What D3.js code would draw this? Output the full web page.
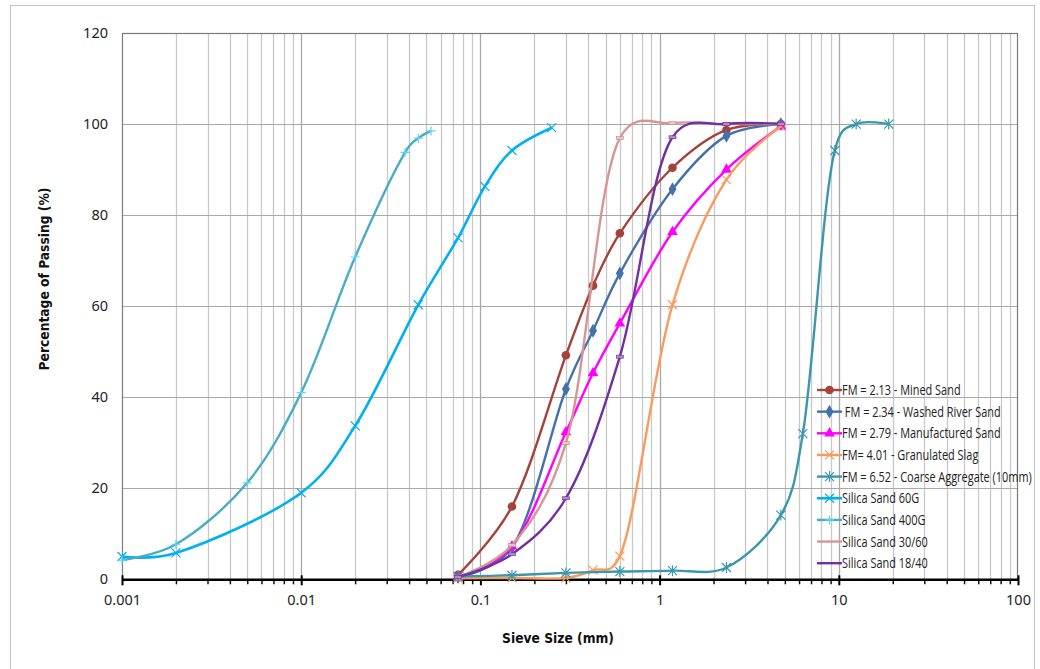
<!DOCTYPE html>
<html>
<head>
<meta charset="utf-8">
<script src="https://cdnjs.cloudflare.com/ajax/libs/d3/7.8.5/d3.min.js"></script>
<style>
  html, body { margin: 0; padding: 0; background: #fff; }
  svg { display: block; }
</style>
</head>
<body>
<svg id="chart" width="1040" height="669"></svg>
<script>
// Sieve analysis: percentage passing vs sieve size (log scale)
const sandSieves   = [0.075, 0.15, 0.3, 0.425, 0.6, 1.18, 2.36, 4.75];
const minedSand    = [1, 16, 49.2, 64.5, 76, 90.4, 98.7, 100];
const washedSand   = [0.5, 7, 41.8, 54.6, 67.2, 85.7, 97.4, 100];
const mfgSand      = [0.5, 7.2, 32.3, 45.3, 56.2, 76.3, 90, 99.5];
const slag         = [0.2, 0.3, 0.3, 2, 5.1, 60.3, 87.8, 99.5];

const coarseSieves = [0.075, 0.15, 0.3, 0.6, 1.18, 2.36, 4.75, 6.3, 9.5, 12.5, 19];
const coarseAgg    = [0.6, 0.9, 1.4, 1.7, 1.9, 2.6, 14.1, 32, 94.2, 100, 100];

const g60Sieves    = [0.001, 0.002, 0.01, 0.02, 0.045, 0.075, 0.106, 0.15, 0.25];
const silica60G    = [5, 5.8, 19, 33.7, 60.3, 75, 86.3, 94.2, 99.2];

const g400Sieves   = [0.001, 0.002, 0.005, 0.01, 0.02, 0.038, 0.045, 0.053];
const silica400G   = [4.2, 7.7, 21.2, 41, 70.8, 93.8, 96.9, 98.5];

const silicaSieves = [0.075, 0.15, 0.3, 0.6, 1.18, 2.36, 4.75];
const silica3060   = [0.5, 7.5, 29.9, 96.9, 100.2, 100, 100];
const silica1840   = [0.5, 5.5, 17.8, 48.9, 97.1, 100, 100];

const seriesNames = [
  "FM = 2.13 - Mined Sand",
  " FM = 2.34 - Washed River Sand",
  "FM = 2.79 - Manufactured Sand",
  "FM= 4.01 - Granulated Slag",
  "FM = 6.52 - Coarse Aggregate (10mm)",
  "Silica Sand 60G",
  "Silica Sand 400G",
  "Silica Sand 30/60",
  "Silica Sand 18/40"
];

const xTickValues = [0.001, 0.01, 0.1, 1, 10, 100];
const xTickLabels = ["0.001", "0.01", "0.1", "1", "10", "100"];
const yTickValues = [0, 20, 40, 60, 80, 100, 120];

const series = [
  { name: seriesNames[0], xs: sandSieves,   ys: minedSand,  color: "#a3433b", marker: "circle",  width: 2.4 },
  { name: seriesNames[1], xs: sandSieves,   ys: washedSand, color: "#4571aa", marker: "diamond", width: 2.4 },
  { name: seriesNames[2], xs: sandSieves,   ys: mfgSand,    color: "#ff00ff", marker: "triangle",width: 2.4 },
  { name: seriesNames[3], xs: sandSieves,   ys: slag,       color: "#fb9a5e", marker: "x",       width: 2.4 },
  { name: seriesNames[4], xs: coarseSieves, ys: coarseAgg,  color: "#3b97ad", marker: "star",    width: 2.4 },
  { name: seriesNames[5], xs: g60Sieves,    ys: silica60G,  color: "#00b0f0", marker: "x",       width: 2.6 },
  { name: seriesNames[6], xs: g400Sieves,   ys: silica400G, color: "#4bacc6", marker: "plus",    width: 2.4 },
  { name: seriesNames[7], xs: silicaSieves, ys: silica3060, color: "#d69794", marker: "dash",    width: 2.4 },
  { name: seriesNames[8], xs: silicaSieves, ys: silica1840, color: "#7030a0", marker: "dash",    width: 2.4 }
];

const svg = d3.select("#chart");
const plotLeft = 122, plotRight = 1018, plotTop = 33, plotBottom = 579.3;

const x = d3.scaleLog().domain([0.001, 100]).range([plotLeft, plotRight]);
const y = d3.scaleLinear().domain([0, 120]).range([plotBottom, plotTop]);

// outer chart frame
svg.append("rect")
  .attr("x", 10.5).attr("y", 5.5).attr("width", 1024).attr("height", 700)
  .attr("fill", "#fff").attr("stroke", "#c3c3c3").attr("stroke-width", 1);

// vertical grid (all log ticks)
const allXTicks = x.ticks();
const isMajor = d => xTickValues.some(v => Math.abs(v - d) / d < 1e-6);
svg.append("g").selectAll("line")
  .data(allXTicks.filter(d => d > 0.001 && d < 100))
  .join("line")
  .attr("x1", d => Math.round(x(d)) + 0.5).attr("x2", d => Math.round(x(d)) + 0.5)
  .attr("y1", plotTop).attr("y2", plotBottom)
  .attr("stroke", d => isMajor(d) ? "#a8a8a8" : "#c8c8c8")
  .attr("stroke-width", 1.3);

// horizontal grid
svg.append("g").selectAll("line")
  .data(yTickValues.filter(d => d > 0 && d < 120))
  .join("line")
  .attr("x1", plotLeft).attr("x2", plotRight)
  .attr("y1", d => Math.round(y(d)) + 0.5).attr("y2", d => Math.round(y(d)) + 0.5)
  .attr("stroke", "#a8a8a8").attr("stroke-width", 1.2);

// plot border
svg.append("rect")
  .attr("x", plotLeft + 0.5).attr("y", Math.round(plotTop) + 0.5)
  .attr("width", plotRight - plotLeft - 1).attr("height", plotBottom - plotTop)
  .attr("fill", "none").attr("stroke", "#7a7a7a").attr("stroke-width", 1.2);

// y axis labels
const yAxis = d3.axisLeft(y).tickValues(yTickValues).tickSize(0).tickPadding(14);
const gy = svg.append("g").attr("transform", `translate(${plotLeft},0)`).call(yAxis);
gy.select(".domain").remove();
gy.selectAll("text")
  .attr("font-family", "'Noto Sans', 'Open Sans', sans-serif")
  .attr("font-size", 14.5).attr("fill", "#222");

// x axis: minor ticks
const minorTicks = allXTicks.filter(d => !isMajor(d));
const gxMinor = svg.append("g").attr("transform", `translate(0,${plotBottom})`)
  .call(d3.axisBottom(x).tickValues(minorTicks).tickSize(5).tickFormat(""));
gxMinor.select(".domain").remove();
gxMinor.selectAll("line").attr("stroke", "#111").attr("stroke-width", 1.5);

// x axis: major ticks and labels
const gx = svg.append("g").attr("transform", `translate(0,${plotBottom})`)
  .call(d3.axisBottom(x).tickValues(xTickValues)
    .tickFormat((d, i) => xTickLabels[i]).tickSizeInner(6).tickSizeOuter(0).tickPadding(9));
gx.select(".domain").attr("stroke", "#000").attr("stroke-width", 2.4);
gx.selectAll(".tick line").attr("stroke", "#000").attr("stroke-width", 2).attr("y1", -4);
gx.selectAll("text")
  .attr("font-family", "'Noto Sans', 'Open Sans', sans-serif")
  .attr("font-size", 14.5).attr("fill", "#222");

// axis titles
svg.append("text")
  .attr("x", 558).attr("y", 643)
  .attr("text-anchor", "middle")
  .attr("font-family", "'DejaVu Sans', sans-serif")
  .attr("font-weight", "bold").attr("font-size", 14).attr("fill", "#111")
  .attr("transform", "translate(558,0) scale(0.88,1) translate(-558,0)")
  .text("Sieve Size (mm)");

svg.append("text")
  .attr("transform", "translate(49,279) rotate(-90) scale(0.88,1)")
  .attr("text-anchor", "middle")
  .attr("font-family", "'DejaVu Sans', sans-serif")
  .attr("font-weight", "bold").attr("font-size", 14).attr("fill", "#111")
  .text("Percentage of Passing (%)");

// markers
function drawMarker(g, type, color, cx, cy) {
  switch (type) {
    case "circle":
      g.append("circle").attr("cx", cx).attr("cy", cy).attr("r", 4.3).attr("fill", color);
      break;
    case "diamond":
      g.append("path").attr("d", d3.symbol(d3.symbolDiamond, 55)()).attr("transform", `translate(${cx},${cy})`).attr("fill", color);
      break;
    case "triangle":
      g.append("path").attr("d", d3.symbol(d3.symbolTriangle, 50)()).attr("transform", `translate(${cx},${cy})`).attr("fill", color);
      break;
    case "x":
      g.append("path").attr("d", "M-4.5,-4.5L4.5,4.5M-4.5,4.5L4.5,-4.5")
        .attr("transform", `translate(${cx},${cy})`).attr("stroke", color).attr("stroke-width", 1.2).attr("fill", "none");
      break;
    case "star":
      g.append("path").attr("d", "M-4.5,-4.5L4.5,4.5M-4.5,4.5L4.5,-4.5M0,-5.5L0,5.5")
        .attr("transform", `translate(${cx},${cy})`).attr("stroke", color).attr("stroke-width", 1.2).attr("fill", "none");
      break;
    case "plus":
      g.append("path").attr("d", "M-4.5,0L4.5,0M0,-4.5L0,4.5")
        .attr("transform", `translate(${cx},${cy})`).attr("stroke", d3.color(color).brighter(0.6)).attr("stroke-width", 1.2).attr("fill", "none");
      break;
    case "dash":
      g.append("rect").attr("x", cx - 3.5).attr("y", cy - 1.5).attr("width", 7).attr("height", 3)
        .attr("fill", d3.interpolateRgb(color, "#ffffff")(0.45)).attr("stroke", d3.color(color).darker(0.3)).attr("stroke-width", 0.6);
      break;
  }
}

// smoothed lines
const line = d3.line()
  .x(d => x(d[0])).y(d => y(d[1]))
  .curve(d3.curveCatmullRom.alpha(0.25));

series.forEach(s => {
  const pts = s.xs.map((v, i) => [v, s.ys[i]]);
  const g = svg.append("g");
  g.append("path").datum(pts)
    .attr("d", line)
    .attr("fill", "none").attr("stroke", s.color).attr("stroke-width", s.width)
    .attr("stroke-linejoin", "round");
  pts.forEach(p => drawMarker(g, s.marker, s.color, x(p[0]), y(p[1])));
});

// legend
const legend = svg.append("g");
const legendTexts = [];
series.forEach((s, i) => {
  const ly = 390 + i * 21.65;
  const g = legend.append("g");
  g.append("line").attr("x1", 817).attr("x2", 842).attr("y1", ly).attr("y2", ly)
    .attr("stroke", s.color).attr("stroke-width", s.width);
  if (s.marker !== "dash") drawMarker(g, s.marker, s.color, 829.5, ly);
  const t = g.append("text")
    .attr("font-family", "'Open Sans', 'Noto Sans', sans-serif")
    .attr("font-size", 14).attr("fill", "#222")
    .attr("xml:space", "preserve")
    .attr("data-y", ly + 5)
    .text(s.name);
  legendTexts.push(t);
});
// condense legend text so the longest entry ends inside the frame
const longest = d3.max(legendTexts, t => t.node().getComputedTextLength());
const squeeze = Math.min(1, 190 / longest);
legendTexts.forEach(t => t.attr("transform", `translate(842,${t.attr("data-y")}) scale(${squeeze},1)`));
</script>
</body>
</html>
